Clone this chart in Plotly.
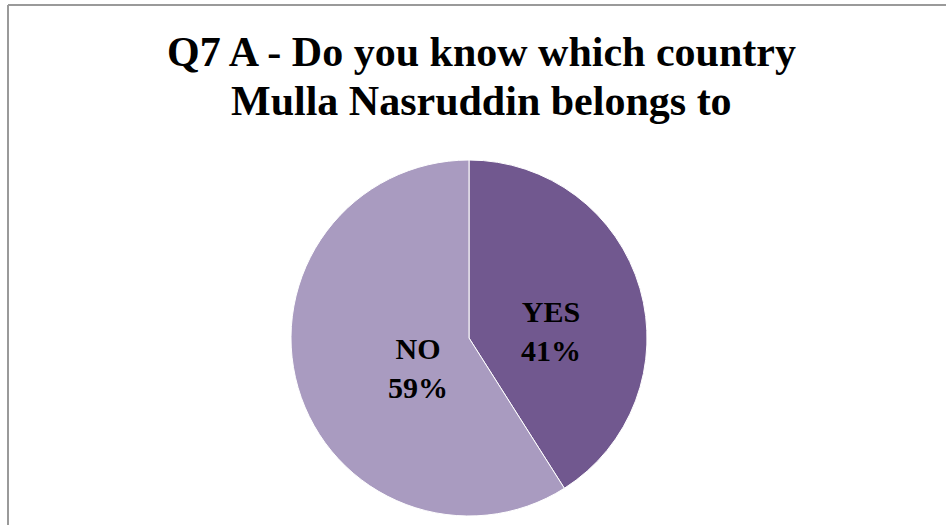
import plotly.graph_objects as go

# Survey answers and their shares (percent)
answers = ["YES", "NO"]
shares = [41, 59]
slice_colors = ["#71588F", "#A99BC0"]

title_lines = ["Q7 A - Do you know which country", "Mulla Nasruddin belongs to"]

W, H = 946, 525
SERIF = "Liberation Serif"

fig = go.Figure(
    go.Pie(
        labels=answers,
        values=shares,
        sort=False,
        direction="clockwise",
        rotation=0,
        marker=dict(colors=slice_colors, line=dict(color="white", width=1)),
        textinfo="none",
        hoverinfo="label+percent",
        domain=dict(x=[291 / W, 647 / W], y=[9 / H, 365 / H]),
        showlegend=False,
    )
)

# Data labels inside each slice
label_pos = {"YES": (551, 331), "NO": (418, 368)}
for a, s in zip(answers, shares):
    px, py = label_pos[a]
    fig.add_annotation(
        x=px / W, y=1 - py / H, xref="paper", yref="paper",
        xanchor="center", yanchor="middle", showarrow=False,
        text=f"<b>{a}<br>{s}%</b>",
        font=dict(family=SERIF, size=30, color="black"),
    )

# Two-line chart title
for i, line in enumerate(title_lines):
    fig.add_annotation(
        x=481 / W, y=1 - (52 + 49 * i) / H, xref="paper", yref="paper",
        xanchor="center", yanchor="middle", showarrow=False,
        text=f"<b>{line}</b>",
        font=dict(family=SERIF, size=42, color="black"),
    )

# Chart-area frame (top and left edges)
frame = dict(color="#9a9a9a", width=2)
fig.add_shape(type="line", xref="paper", yref="paper",
              x0=8 / W, y0=0, x1=8 / W, y1=1 - 5 / H, line=frame)
fig.add_shape(type="line", xref="paper", yref="paper",
              x0=8 / W, y0=1 - 5 / H, x1=1, y1=1 - 5 / H, line=frame)

fig.update_layout(
    width=W,
    height=H,
    margin=dict(l=0, r=0, t=0, b=0),
    paper_bgcolor="white",
    plot_bgcolor="white",
)

fig.write_html("out.html")
